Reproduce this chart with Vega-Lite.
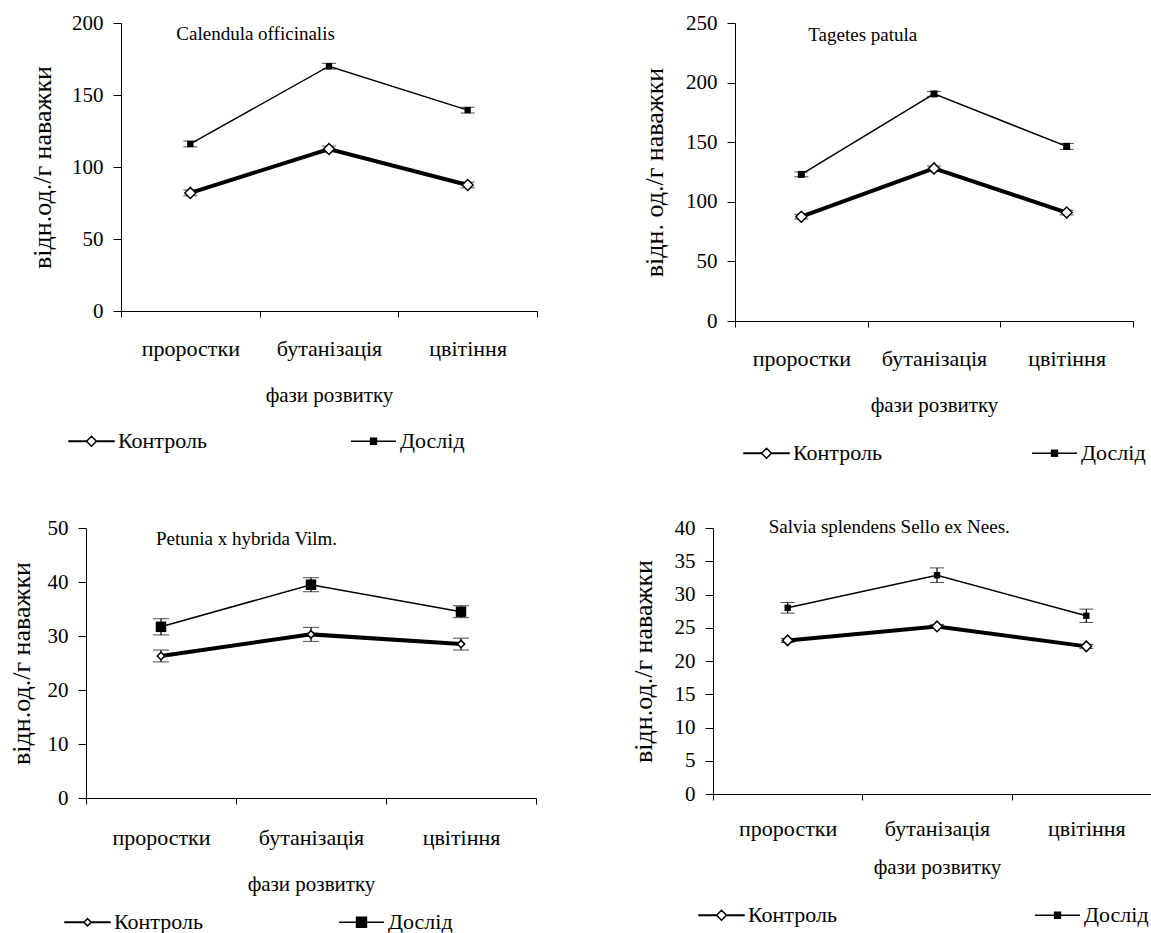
{
  "$schema": "https://vega.github.io/schema/vega-lite/v6.json",
  "padding": {"left": 8, "top": 12, "right": 0, "bottom": 0},
  "spacing": 52,
  "resolve": {"scale": {"shape": "independent", "fill": "independent", "stroke": "independent"}, "legend": {"shape": "independent", "fill": "independent", "stroke": "independent"}},
  "config": {
    "font": "Liberation Serif",
    "view": {"stroke": null},
    "axis": {"labelFont": "Liberation Serif", "labelFontSize": 21, "labelColor": "black", "titleFont": "Liberation Serif", "titleFontSize": 21, "titleFontWeight": "normal", "titleColor": "black", "domainColor": "black", "tickColor": "black", "grid": false},
    "axisY": {"tickSize": 8, "labelPadding": 10, "titlePadding": 10, "titleFontSize": 26},
    "axisX": {"tickSize": 6, "labelPadding": 21, "titlePadding": 25, "labelAngle": 0, "tickBand": "extent", "labelFontSize": 22},
    "legend": {"labelFont": "Liberation Serif", "labelFontSize": 22, "labelColor": "black", "orient": "none", "direction": "horizontal", "columns": 2, "symbolSize": 2025, "symbolStrokeColor": "black", "symbolStrokeWidth": 1.5, "symbolOpacity": 1, "labelOffset": 3, "title": null}
  },
  "datasets": {
    "calendula": [
      {"phase": "проростки", "s": "Контроль", "v": 82, "e": 2},
      {"phase": "бутанізація", "s": "Контроль", "v": 112.5, "e": 2},
      {"phase": "цвітіння", "s": "Контроль", "v": 87.5, "e": 2},
      {"phase": "проростки", "s": "Дослід", "v": 116, "e": 2},
      {"phase": "бутанізація", "s": "Дослід", "v": 170, "e": 2},
      {"phase": "цвітіння", "s": "Дослід", "v": 139.5, "e": 2}
    ],
    "tagetes": [
      {"phase": "проростки", "s": "Контроль", "v": 87.5, "e": 2},
      {"phase": "бутанізація", "s": "Контроль", "v": 128, "e": 2},
      {"phase": "цвітіння", "s": "Контроль", "v": 91, "e": 2},
      {"phase": "проростки", "s": "Дослід", "v": 123, "e": 2},
      {"phase": "бутанізація", "s": "Дослід", "v": 190.5, "e": 2},
      {"phase": "цвітіння", "s": "Дослід", "v": 146.5, "e": 2.5}
    ],
    "petunia": [
      {"phase": "проростки", "s": "Контроль", "v": 26.3, "e": 1.1},
      {"phase": "бутанізація", "s": "Контроль", "v": 30.3, "e": 1.3},
      {"phase": "цвітіння", "s": "Контроль", "v": 28.5, "e": 1.1},
      {"phase": "проростки", "s": "Дослід", "v": 31.7, "e": 1.5},
      {"phase": "бутанізація", "s": "Дослід", "v": 39.5, "e": 1.3},
      {"phase": "цвітіння", "s": "Дослід", "v": 34.5, "e": 1.1}
    ],
    "salvia": [
      {"phase": "проростки", "s": "Контроль", "v": 23.1, "e": 0.3},
      {"phase": "бутанізація", "s": "Контроль", "v": 25.2, "e": 0.3},
      {"phase": "цвітіння", "s": "Контроль", "v": 22.2, "e": 0.3},
      {"phase": "проростки", "s": "Дослід", "v": 28.0, "e": 0.8},
      {"phase": "бутанізація", "s": "Дослід", "v": 32.9, "e": 1.1},
      {"phase": "цвітіння", "s": "Дослід", "v": 26.8, "e": 1.0}
    ]
  },
  "vconcat": [
    {
      "spacing": 103,
      "resolve": {"scale": {"shape": "independent", "fill": "independent", "stroke": "independent"}, "legend": {"shape": "independent", "fill": "independent", "stroke": "independent"}},
      "hconcat": [
        {
          "spacing": -58,
          "resolve": {"scale": {"shape": "independent", "fill": "independent", "stroke": "independent"}, "legend": {"shape": "independent", "fill": "independent", "stroke": "independent"}},
          "hconcat": [
            {"width": 1, "height": 1, "data": {"values": [{"k": 1}]}, "mark": {"type": "point", "opacity": 0, "size": 1}},
            {
              "width": 416, "height": 288,
              "data": {"name": "calendula"},
              "encoding": {
                "x": {"field": "phase", "type": "nominal", "scale": {"type": "band", "padding": 0, "domain": ["проростки", "бутанізація", "цвітіння"]}, "axis": {"title": "фази розвитку"}},
                "y": {"field": "v", "type": "quantitative", "scale": {"domain": [0, 200]}, "axis": {"title": "відн.од./г наважки", "values": [0, 50, 100, 150, 200], "titlePadding": 16}}
              },
              "layer": [
                {"mark": {"type": "errorbar", "ticks": {"size": 14, "color": "black", "strokeWidth": 1.5}, "rule": {"strokeWidth": 1.2}, "color": "black"}, "encoding": {"yError": {"field": "e"}}},
                {"transform": [{"filter": "datum.s === 'Контроль'"}], "mark": {"type": "line", "color": "black", "strokeWidth": 4}},
                {"transform": [{"filter": "datum.s === 'Дослід'"}], "mark": {"type": "line", "color": "black", "strokeWidth": 1.5}},
                {"transform": [{"filter": "datum.s === 'Контроль'"}], "mark": {"type": "point", "shape": "diamond", "filled": true, "fill": "white", "stroke": "black", "strokeWidth": 1.5, "size": 121, "opacity": 1}},
                {"transform": [{"filter": "datum.s === 'Дослід'"}], "mark": {"type": "point", "shape": "square", "filled": true, "fill": "black", "size": 40, "opacity": 1}},
                {"transform": [{"filter": "datum.s === 'Контроль' && datum.phase === 'проростки'"}], "mark": {"type": "text", "dx": -14, "align": "left", "baseline": "middle", "font": "Liberation Serif", "fontSize": 19, "fill": "black"}, "encoding": {"x": {"datum": "проростки"}, "y": {"datum": 192.4}, "text": {"value": "Calendula officinalis"}}},
                {"mark": {"type": "point", "filled": true, "opacity": 0},
                 "encoding": {
                   "shape": {"field": "s", "type": "nominal", "scale": {"domain": ["Контроль", "Дослід"], "range": ["M-1,-0.015H-0.22V0.015H-1ZM0.22,-0.015H1V0.015H0.22ZM-0.22,0L0,-0.22L0.22,0L0,0.22Z", "M-1,0H1M-0.13,-0.13H0.13V0.13H-0.13Z"]}, "legend": {"legendX": -53, "legendY": 394.5, "columnPadding": 141}},
                   "fill": {"field": "s", "type": "nominal", "scale": {"domain": ["Контроль", "Дослід"], "range": ["white", "black"]}, "legend": {"legendX": -53, "legendY": 394.5, "columnPadding": 141}},
                   "stroke": {"field": "s", "type": "nominal", "scale": {"domain": ["Контроль", "Дослід"], "range": ["black", "black"]}, "legend": {"legendX": -53, "legendY": 394.5, "columnPadding": 141}}
                 }}
              ]
            }
          ]
        },
        {
          "width": 398, "height": 298,
          "data": {"name": "tagetes"},
          "encoding": {
            "x": {"field": "phase", "type": "nominal", "scale": {"type": "band", "padding": 0, "domain": ["проростки", "бутанізація", "цвітіння"]}, "axis": {"title": "фази розвитку"}},
            "y": {"field": "v", "type": "quantitative", "scale": {"domain": [0, 250]}, "axis": {"title": "відн. од./г наважки", "values": [0, 50, 100, 150, 200, 250], "titlePadding": 18}}
          },
          "layer": [
            {"mark": {"type": "errorbar", "ticks": {"size": 14, "color": "black", "strokeWidth": 1.5}, "rule": {"strokeWidth": 1.2}, "color": "black"}, "encoding": {"yError": {"field": "e"}}},
            {"transform": [{"filter": "datum.s === 'Контроль'"}], "mark": {"type": "line", "color": "black", "strokeWidth": 4}},
            {"transform": [{"filter": "datum.s === 'Дослід'"}], "mark": {"type": "line", "color": "black", "strokeWidth": 1.5}},
            {"transform": [{"filter": "datum.s === 'Контроль'"}], "mark": {"type": "point", "shape": "diamond", "filled": true, "fill": "white", "stroke": "black", "strokeWidth": 1.5, "size": 121, "opacity": 1}},
            {"transform": [{"filter": "datum.s === 'Дослід'"}], "mark": {"type": "point", "shape": "square", "filled": true, "fill": "black", "size": 49, "opacity": 1}},
            {"transform": [{"filter": "datum.s === 'Контроль' && datum.phase === 'проростки'"}], "mark": {"type": "text", "dx": 7, "align": "left", "baseline": "middle", "font": "Liberation Serif", "fontSize": 19, "fill": "black"}, "encoding": {"x": {"datum": "проростки"}, "y": {"datum": 240}, "text": {"value": "Tagetes patula"}}},
            {"mark": {"type": "point", "filled": true, "opacity": 0},
             "encoding": {
               "shape": {"field": "s", "type": "nominal", "scale": {"domain": ["Контроль", "Дослід"], "range": ["M-1,-0.015H-0.22V0.015H-1ZM0.22,-0.015H1V0.015H0.22ZM-0.22,0L0,-0.22L0.22,0L0,0.22Z", "M-1,0H1M-0.13,-0.13H0.13V0.13H-0.13Z"]}, "legend": {"legendX": 8, "legendY": 406.5, "columnPadding": 147}},
               "fill": {"field": "s", "type": "nominal", "scale": {"domain": ["Контроль", "Дослід"], "range": ["white", "black"]}, "legend": {"legendX": 8, "legendY": 406.5, "columnPadding": 147}},
               "stroke": {"field": "s", "type": "nominal", "scale": {"domain": ["Контроль", "Дослід"], "range": ["black", "black"]}, "legend": {"legendX": 8, "legendY": 406.5, "columnPadding": 147}}
             }}
          ]
        }
      ]
    },
    {
      "spacing": 93,
      "resolve": {"scale": {"shape": "independent", "fill": "independent", "stroke": "independent"}, "legend": {"shape": "independent", "fill": "independent", "stroke": "independent"}},
      "hconcat": [
        {
          "width": 450, "height": 270,
          "data": {"name": "petunia"},
          "encoding": {
            "x": {"field": "phase", "type": "nominal", "scale": {"type": "band", "padding": 0, "domain": ["проростки", "бутанізація", "цвітіння"]}, "axis": {"title": "фази розвитку", "labelPadding": 23, "titlePadding": 25}},
            "y": {"field": "v", "type": "quantitative", "scale": {"domain": [0, 50]}, "axis": {"title": "відн.од./г наважки", "values": [0, 10, 20, 30, 40, 50], "titlePadding": 13}}
          },
          "layer": [
            {"mark": {"type": "errorbar", "ticks": {"size": 16, "color": "black", "strokeWidth": 1.5}, "rule": {"strokeWidth": 1.2}, "color": "black"}, "encoding": {"yError": {"field": "e"}}},
            {"transform": [{"filter": "datum.s === 'Контроль'"}], "mark": {"type": "line", "color": "black", "strokeWidth": 4}},
            {"transform": [{"filter": "datum.s === 'Дослід'"}], "mark": {"type": "line", "color": "black", "strokeWidth": 1.5}},
            {"transform": [{"filter": "datum.s === 'Контроль'"}], "mark": {"type": "point", "shape": "diamond", "filled": true, "fill": "white", "stroke": "black", "strokeWidth": 1.5, "size": 55, "opacity": 1}},
            {"transform": [{"filter": "datum.s === 'Дослід'"}], "mark": {"type": "point", "shape": "square", "filled": true, "fill": "black", "size": 110, "opacity": 1}},
            {"transform": [{"filter": "datum.s === 'Контроль' && datum.phase === 'проростки'"}], "mark": {"type": "text", "dx": -5, "align": "left", "baseline": "middle", "font": "Liberation Serif", "fontSize": 19, "fill": "black"}, "encoding": {"x": {"datum": "проростки"}, "y": {"datum": 48}, "text": {"value": "Petunia x hybrida Vilm."}}},
            {"mark": {"type": "point", "filled": true, "opacity": 0},
             "encoding": {
               "shape": {"field": "s", "type": "nominal", "scale": {"domain": ["Контроль", "Дослід"], "range": ["M-1,-0.015H-0.16V0.015H-1ZM0.16,-0.015H1V0.015H0.16ZM-0.16,0L0,-0.16L0.16,0L0,0.16Z", "M-1,0H1M-0.22,-0.22H0.22V0.22H-0.22Z"]}, "legend": {"legendX": -22, "legendY": 370.5, "columnPadding": 133}},
               "fill": {"field": "s", "type": "nominal", "scale": {"domain": ["Контроль", "Дослід"], "range": ["white", "black"]}, "legend": {"legendX": -22, "legendY": 370.5, "columnPadding": 133}},
               "stroke": {"field": "s", "type": "nominal", "scale": {"domain": ["Контроль", "Дослід"], "range": ["black", "black"]}, "legend": {"legendX": -22, "legendY": 370.5, "columnPadding": 133}}
             }}
          ]
        },
        {
          "width": 448, "height": 266,
          "data": {"name": "salvia"},
          "encoding": {
            "x": {"field": "phase", "type": "nominal", "scale": {"type": "band", "padding": 0, "domain": ["проростки", "бутанізація", "цвітіння"]}, "axis": {"title": "фази розвитку", "labelPadding": 18, "titlePadding": 17}},
            "y": {"field": "v", "type": "quantitative", "scale": {"domain": [0, 40]}, "axis": {"title": "відн.од./г наважки", "values": [0, 5, 10, 15, 20, 25, 30, 35, 40], "titlePadding": 18}}
          },
          "layer": [
            {"mark": {"type": "errorbar", "ticks": {"size": 14, "color": "black", "strokeWidth": 1.5}, "rule": {"strokeWidth": 1.2}, "color": "black"}, "encoding": {"yError": {"field": "e"}}},
            {"transform": [{"filter": "datum.s === 'Контроль'"}], "mark": {"type": "line", "color": "black", "strokeWidth": 4}},
            {"transform": [{"filter": "datum.s === 'Дослід'"}], "mark": {"type": "line", "color": "black", "strokeWidth": 1.5}},
            {"transform": [{"filter": "datum.s === 'Контроль'"}], "mark": {"type": "point", "shape": "diamond", "filled": true, "fill": "white", "stroke": "black", "strokeWidth": 1.5, "size": 110, "opacity": 1}},
            {"transform": [{"filter": "datum.s === 'Дослід'"}], "mark": {"type": "point", "shape": "square", "filled": true, "fill": "black", "size": 40, "opacity": 1}},
            {"transform": [{"filter": "datum.s === 'Контроль' && datum.phase === 'проростки'"}], "mark": {"type": "text", "dx": -19, "align": "left", "baseline": "middle", "font": "Liberation Serif", "fontSize": 19, "fill": "black"}, "encoding": {"x": {"datum": "проростки"}, "y": {"datum": 40.2}, "text": {"value": "Salvia splendens Sello ex Nees."}}},
            {"mark": {"type": "point", "filled": true, "opacity": 0},
             "encoding": {
               "shape": {"field": "s", "type": "nominal", "scale": {"domain": ["Контроль", "Дослід"], "range": ["M-1,-0.015H-0.22V0.015H-1ZM0.22,-0.015H1V0.015H0.22ZM-0.22,0L0,-0.22L0.22,0L0,0.22Z", "M-1,0H1M-0.13,-0.13H0.13V0.13H-0.13Z"]}, "legend": {"legendX": -15, "legendY": 363.5, "columnPadding": 195}},
               "fill": {"field": "s", "type": "nominal", "scale": {"domain": ["Контроль", "Дослід"], "range": ["white", "black"]}, "legend": {"legendX": -15, "legendY": 363.5, "columnPadding": 195}},
               "stroke": {"field": "s", "type": "nominal", "scale": {"domain": ["Контроль", "Дослід"], "range": ["black", "black"]}, "legend": {"legendX": -15, "legendY": 363.5, "columnPadding": 195}}
             }}
          ]
        }
      ]
    }
  ]
}
